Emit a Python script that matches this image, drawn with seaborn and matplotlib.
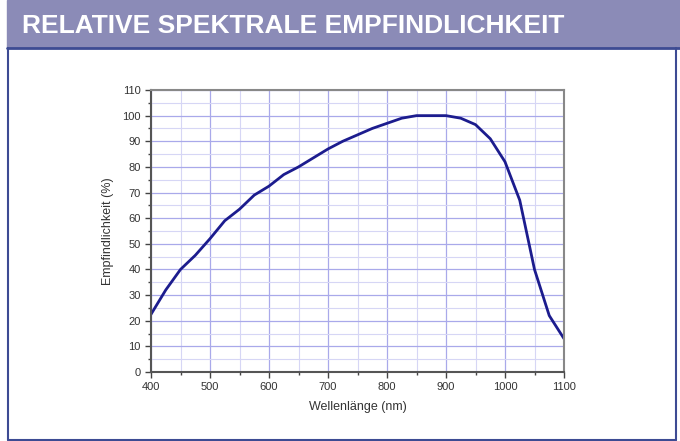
import matplotlib
matplotlib.use("Agg")
import matplotlib.pyplot as plt
import matplotlib.patches as patches
from matplotlib.ticker import MultipleLocator
import seaborn as sns
import pandas as pd

# Spectral response
wavelength = [400, 425, 450, 475, 500, 525, 550, 575, 600, 625, 650, 675, 700, 725,
              750, 775, 800, 825, 850, 875, 900, 925, 950, 975, 1000, 1025, 1050, 1075, 1100]
sensitivity = [22.5, 32, 40, 45.5, 52, 59, 63.5, 69, 72.5, 77, 80, 83.5, 87, 90,
               92.5, 95, 97, 99, 100, 100, 100, 99, 96.5, 91, 82, 67, 40, 22, 13]
title = "RELATIVE SPEKTRALE EMPFINDLICHKEIT"

df = pd.DataFrame({"nm": wavelength, "pct": sensitivity})

sns.set_style("white")
plt.rcParams["font.family"] = ["Liberation Sans", "DejaVu Sans"]

fig = plt.figure(figsize=(6.8, 4.41), dpi=100)

# header band + outer frame
fig.patches.append(patches.Rectangle((7/680, 1-47/441), 673/680, 47/441,
                                     transform=fig.transFigure, color="#8b8bb7", zorder=0))
frame_col = "#3d4b93"
fig.add_artist(plt.Line2D([8/680, 8/680], [1-48/441, 1/441], color=frame_col, lw=1.5))
fig.add_artist(plt.Line2D([676/680, 676/680], [1-48/441, 1/441], color=frame_col, lw=1.5))
fig.add_artist(plt.Line2D([8/680, 676/680], [1/441, 1/441], color=frame_col, lw=1.5))
fig.add_artist(plt.Line2D([7/680, 680/680], [1-48/441, 1-48/441], color=frame_col, lw=2))
fig.text(22/680, 1-26/441, title, color="white", fontsize=19, fontweight="bold",
         va="center", ha="left", family=["Liberation Sans", "DejaVu Sans"])

ax = fig.add_axes([151/680, 69/441, 413/680, 282/441])
sns.lineplot(data=df, x="nm", y="pct", ax=ax, color="#1c1c8e", lw=2)

ax.set_xlim(400, 1100)
ax.set_ylim(0, 110)
ax.xaxis.set_major_locator(MultipleLocator(100))
ax.xaxis.set_minor_locator(MultipleLocator(50))
ax.yaxis.set_major_locator(MultipleLocator(10))
ax.yaxis.set_minor_locator(MultipleLocator(5))
ax.grid(which="major", color="#a9a9ea", lw=0.9)
ax.grid(which="minor", color="#d6d6f5", lw=0.8)
ax.set_axisbelow(True)

ax.tick_params(which="both", direction="out", left=True, bottom=True,
               colors="#444444", labelcolor="#333333", labelsize=8)
ax.tick_params(which="major", length=4, width=1)
ax.tick_params(which="minor", length=2.5, width=1)
for s in ["left", "bottom"]:
    ax.spines[s].set_color("#555555")
    ax.spines[s].set_linewidth(1.5)
for s in ["top", "right"]:
    ax.spines[s].set_color("#888888")
    ax.spines[s].set_linewidth(1.5)

ax.set_xlabel("Wellenlänge (nm)", fontsize=9, color="#333333", labelpad=6)
ax.set_ylabel("Empfindlichkeit (%)", fontsize=9, color="#333333", labelpad=6)

fig.savefig("out.png", dpi=100)
